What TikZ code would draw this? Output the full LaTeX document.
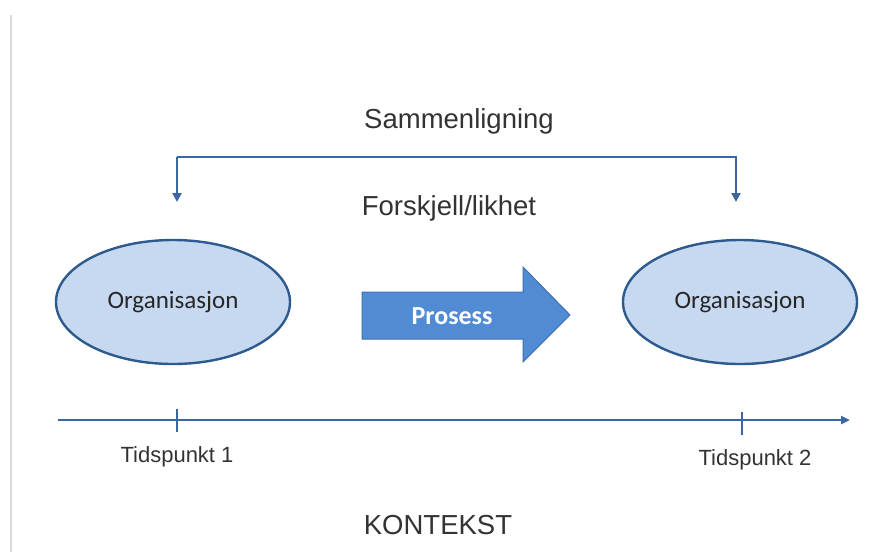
\documentclass[tikz,border=0pt]{standalone}
\usepackage{fontspec}
\setmainfont{Liberation Sans}
\newfontfamily\calfont{Carlito}
\usetikzlibrary{shapes.geometric,arrows.meta}
\definecolor{ellfill}{HTML}{C6D9F0}
\definecolor{ellline}{HTML}{2E5A8E}
\definecolor{arrfill}{HTML}{508BD3}
\definecolor{arrline}{HTML}{3E70AE}
\definecolor{conn}{HTML}{3C66A2}
\definecolor{txt}{HTML}{333333}
\definecolor{edge}{HTML}{D9D9D9}
\begin{document}
\begin{tikzpicture}[x=1pt,y=-1pt,
  org/.style={ellipse, draw=ellline, line width=2.4pt, fill=ellfill, minimum width=234pt, minimum height=124pt, inner sep=0pt, font=\calfont\fontsize{25}{28}\selectfont, text=black!85},
  lbl/.style={font=\fontsize{27.5}{30}\selectfont, text=txt, inner sep=0pt},
  small/.style={font=\fontsize{22}{25}\selectfont, text=txt, inner sep=0pt},
  conline/.style={draw=conn, line width=2.8pt},
  tickline/.style={draw=conn, line width=2.2pt},
  tip/.style={-{Triangle[length=9pt,width=9pt]}}]
\useasboundingbox (0,0) rectangle (874,552);
\fill[white] (0,0) rectangle (874,552);
\draw[edge, line width=1.2pt] (11,15) -- (11,552);
% ellipses
\node[org] (o1) at (173,302) {Organisasjon};
\node[org] (o2) at (740,302) {Organisasjon};
% process arrow
\draw[arrline, fill=arrfill, line width=1pt] (362,292) -- (523,292) -- (523,267) -- (570,315) -- (523,362) -- (523,339) -- (362,339) -- cycle;
\node[font=\calfont\bfseries\fontsize{26}{28}\selectfont, text=white, inner sep=0pt] (p) at (452,316) {Prosess};
% texts
\node[lbl] (s) at (459,121) {Sammenligning};
\node[lbl] (f) at (449,208) {Forskjell/likhet};
\node[lbl] (k) at (438,525) {KONTEKST};
% bracket
\coordinate (b1) at (177,202);
\coordinate (b2) at (736,202);
\draw[conline, tip] (177,157) -- (b1);
\draw[conline, tip] (177,157) -- (736,157) -- (b2);
% timeline
\coordinate (t0) at (58,420);
\coordinate (t1) at (850,420);
\draw[conline, -{Triangle[length=9pt,width=8pt]}] (t0) -- (t1);
\draw[tickline] (177,409) -- (177,432);
\draw[tickline] (742,412) -- (742,435);
\node[small] (d1) at (177,457) {Tidspunkt 1};
\node[small] (d2) at (755,460) {Tidspunkt 2};
\end{tikzpicture}
\end{document}
